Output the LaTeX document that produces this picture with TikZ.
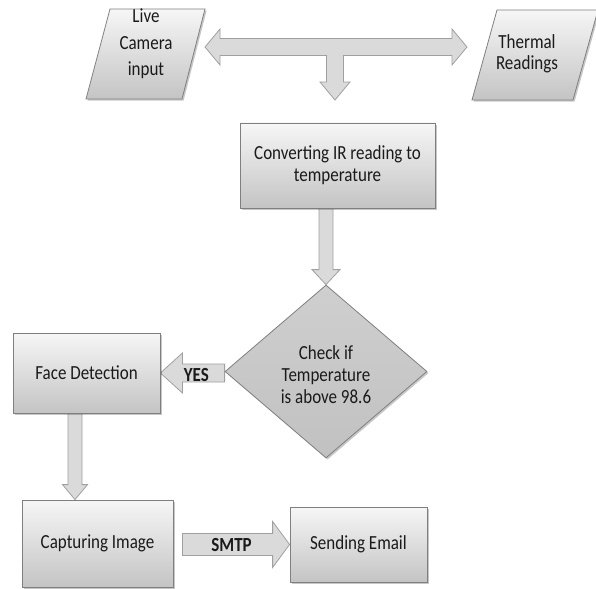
\documentclass[tikz,border=0pt]{standalone}
\usepackage{fontspec}
\setmainfont{Carlito}[FakeStretch=0.85]
\usetikzlibrary{shapes.geometric,shadows,calc,backgrounds}

\definecolor{boxtop}{HTML}{F6F6F6}
\definecolor{boxbot}{HTML}{C4C4C4}
\definecolor{edge}{HTML}{7F7F7F}
\definecolor{dtop}{HTML}{CFCFCF}
\definecolor{dbot}{HTML}{C1C1C1}
\definecolor{arrowfill}{HTML}{DADADA}
\definecolor{arrowedge}{HTML}{A0A0A0}
\definecolor{ink}{HTML}{1A1A1A}

\tikzset{
  softshadow/.style={drop shadow={shadow xshift=1.6pt,shadow yshift=-1.6pt,fill=black,opacity=0.22}},
  procbox/.style={rectangle,draw=edge,line width=0.8pt,top color=boxtop,bottom color=boxbot,
    softshadow,text=ink,align=center,inner sep=0pt},
  ioshape/.style={draw=edge,line width=0.8pt,top color=boxtop,bottom color=boxbot,softshadow},
  decision/.style={diamond,draw=edge,line width=0.8pt,top color=dtop,bottom color=dbot,
    softshadow,inner sep=0pt,text=ink,align=center},
  txt/.style={text=ink,align=center,inner sep=0pt},
  blockarrow/.style={draw=arrowedge,line width=0.8pt,fill=arrowfill,line join=miter},
  arrowtext/.style={text=ink,font=\fontsize{20}{22}\bfseries\selectfont,inner sep=0pt}
}

% horizontal block arrow: tail x from #1, tip at #2; shaft half, head half, signed head length
\newcommand\blockH[5]{%
  \path[blockarrow] let \p1=(#1), \p2=(#2), \n1={#5} in
    ({\x1},{\y2+#3}) -- ({\x2-\n1},{\y2+#3}) -- ({\x2-\n1},{\y2+#4}) -- (\x2,\y2)
    -- ({\x2-\n1},{\y2-#4}) -- ({\x2-\n1},{\y2-#3}) -- ({\x1},{\y2-#3}) -- cycle;}
% downward block arrow: tail y from #1, tip at #2; shaft half, head half, head length
\newcommand\blockV[5]{%
  \path[blockarrow] let \p1=(#1), \p2=(#2) in
    ({\x2-#3},{\y1}) -- ({\x2-#3},{\y2+#5}) -- ({\x2-#4},{\y2+#5}) -- (\x2,\y2)
    -- ({\x2+#4},{\y2+#5}) -- ({\x2+#3},{\y2+#5}) -- ({\x2+#3},{\y1}) -- cycle;}

\begin{document}
\begin{tikzpicture}[x=1pt,y=-1pt,font=\fontsize{20}{22}\selectfont]
\useasboundingbox (0,0) rectangle (596,588);

% input / output parallelograms
\path[ioshape] (110,9) -- (205,9) -- (182,99) -- (86,99) -- cycle;
\node[txt,font=\fontsize{20}{26.5}\selectfont] (live) at (146,44) {Live\\Camera\\input};

\path[ioshape] (497,10) -- (598,10) -- (573,100) -- (472,100) -- cycle;
\node[txt,font=\fontsize{20}{21}\selectfont] (therm) at (527,54) {Thermal\\Readings};

% process steps
\node[procbox,minimum width=195pt,minimum height=85pt] (conv) at (337.5,165.5)
  {Converting IR reading to\\temperature};
\node[decision,minimum width=202pt,minimum height=173pt] (chk) at (326,371.5) {};
\node[txt] (chktext) at (326,375) {Check if\\Temperature\\is above 98.6};
\node[procbox,minimum width=147pt,minimum height=80pt] (face) at (86.5,373) {Face Detection};
\node[procbox,minimum width=151pt,minimum height=87pt] (cap) at (97.5,543.5) {Capturing Image};
\node[procbox,minimum width=137pt,minimum height=75pt] (mail) at (358.5,544.5) {Sending Email};

% connector end points
\coordinate (ltip) at (205,47);
\coordinate (rtip) at (467,47);
\coordinate (dtip) at (335,100);
\coordinate (capin) at ([xshift=-22.5pt]cap.north);

\begin{scope}[on background layer]
  % double-headed arrow with a branch down to the converter
  \path[blockarrow]
    (ltip) -- ([shift={(15,-18)}]ltip) -- ([shift={(15,-8.5)}]ltip)
    -- ([shift={(-15,-8.5)}]rtip) -- ([shift={(-15,-18)}]rtip) -- (rtip)
    -- ([shift={(-15,18)}]rtip) -- ([shift={(-15,8.5)}]rtip)
    -- ([shift={(8.5,-44.5)}]dtip) -- ([shift={(8.5,-18)}]dtip) -- ([shift={(15,-18)}]dtip)
    -- (dtip)
    -- ([shift={(-15,-18)}]dtip) -- ([shift={(-8.5,-18)}]dtip) -- ([shift={(-8.5,-44.5)}]dtip)
    -- ([shift={(15,8.5)}]ltip) -- ([shift={(15,18)}]ltip) -- cycle;

  \blockV{conv.south}{chk.north}{7pt}{14pt}{15pt}
  \blockH{chk.west}{face.east}{9pt}{20pt}{-22pt}
  \blockV{face.south}{capin}{7pt}{12.5pt}{15pt}
  \blockH{[xshift=9pt]cap.east}{mail.west}{11pt}{23pt}{17pt}
\end{scope}

\node[arrowtext] (yes) at ($(face.east)+(36,2)$) {YES};
\node[arrowtext] (smtp) at ($(mail.west)+(-58,1)$) {SMTP};
\end{tikzpicture}
\end{document}
